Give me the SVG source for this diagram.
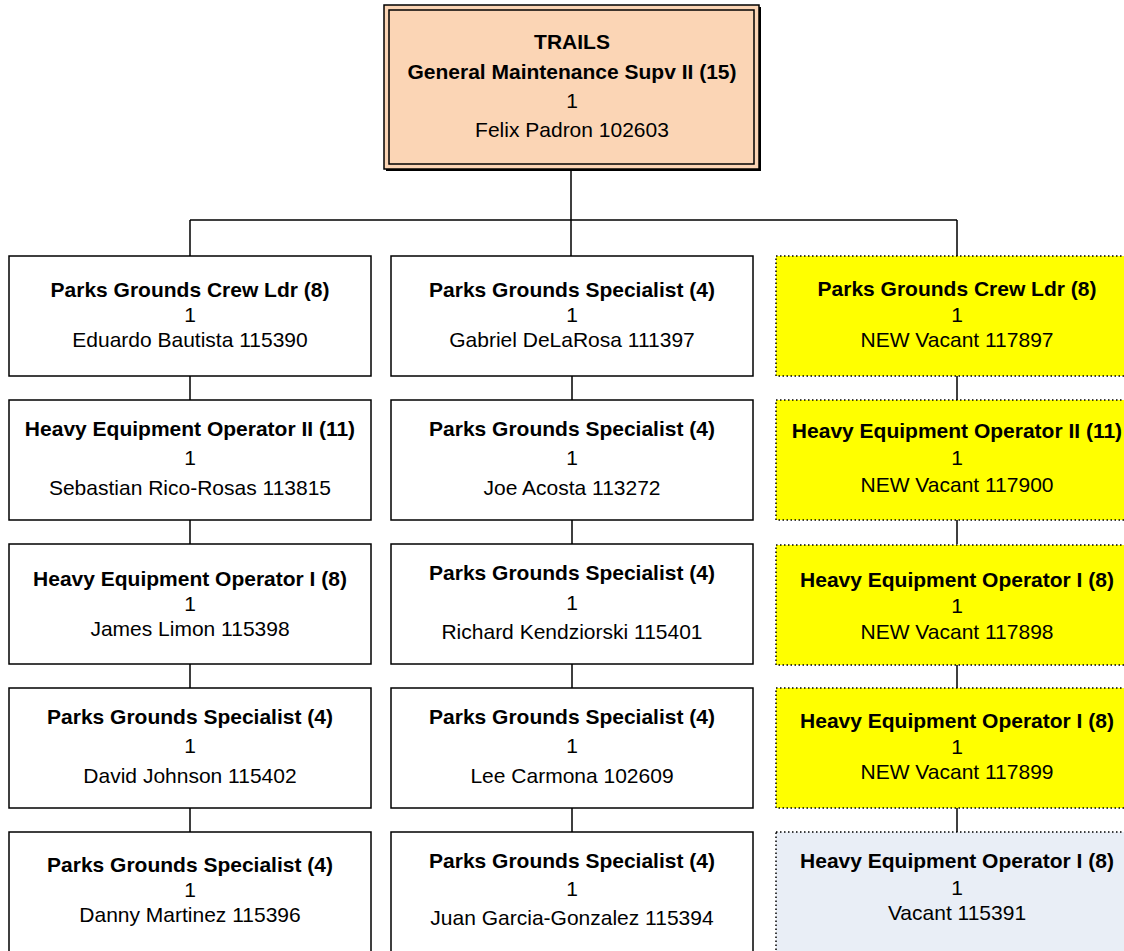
<svg xmlns="http://www.w3.org/2000/svg" width="1124" height="951" viewBox="0 0 1124 951">
<style>
.box{fill:#ffffff;stroke:#000;stroke-width:1.5}
.vac{fill:#ffff00;stroke:#000;stroke-width:1.5;stroke-dasharray:1.5 2.5}
.vac2{fill:#e9eef6;stroke:#000;stroke-width:1.5;stroke-dasharray:1.5 2.5}
.b{font-family:"Liberation Sans",Arial,sans-serif;font-size:21px;font-weight:bold;text-anchor:middle;fill:#000}
.r{font-family:"Liberation Sans",Arial,sans-serif;font-size:21px;text-anchor:middle;fill:#000}
.con{stroke:#000;stroke-width:1.5;fill:none}
</style>
<rect width="1124" height="951" fill="#ffffff"/>
<g id="connectors">
<path class="con" d="M571 170V220M190 220H957M190 220V256M571 220V256M957 220V256"/>
<path class="con" d="M190 376V400M190 520V544M190 664V688M190 808V832"/>
<path class="con" d="M572 376V400M572 520V544M572 664V688M572 808V832"/>
<path class="con" d="M957 376V400M957 520V544M957 664V688M957 808V832"/>
</g>
<g id="top">
<rect x="386" y="7" width="375" height="164" fill="#000"/>
<rect x="384" y="5" width="375" height="164" fill="#fbd5b5" stroke="#000" stroke-width="1.5"/>
<rect x="389" y="10" width="365" height="154" fill="none" stroke="#000" stroke-width="1.5"/>
<text class="b" x="572" y="49">TRAILS</text>
<text class="b" x="572" y="79">General Maintenance Supv II (15)</text>
<text class="r" x="572" y="108">1</text>
<text class="r" x="572" y="137">Felix Padron 102603</text>
</g>
<g id="c1r1"><rect class="box" x="9" y="256" width="362" height="120"/>
<text class="b" x="190" y="297">Parks Grounds Crew Ldr (8)</text><text class="r" x="190" y="322">1</text><text class="r" x="190" y="347">Eduardo Bautista 115390</text></g>
<g id="c1r2"><rect class="box" x="9" y="400" width="362" height="120"/>
<text class="b" x="190" y="436">Heavy Equipment Operator II (11)</text><text class="r" x="190" y="465">1</text><text class="r" x="190" y="495">Sebastian Rico-Rosas 113815</text></g>
<g id="c1r3"><rect class="box" x="9" y="544" width="362" height="120"/>
<text class="b" x="190" y="586">Heavy Equipment Operator I (8)</text><text class="r" x="190" y="611">1</text><text class="r" x="190" y="636">James Limon 115398</text></g>
<g id="c1r4"><rect class="box" x="9" y="688" width="362" height="120"/>
<text class="b" x="190" y="724">Parks Grounds Specialist (4)</text><text class="r" x="190" y="753">1</text><text class="r" x="190" y="783">David Johnson 115402</text></g>
<g id="c1r5"><rect class="box" x="9" y="832" width="362" height="125"/>
<text class="b" x="190" y="872">Parks Grounds Specialist (4)</text><text class="r" x="190" y="897">1</text><text class="r" x="190" y="922">Danny Martinez 115396</text></g>
<g id="c2r1"><rect class="box" x="391" y="256" width="362" height="120"/>
<text class="b" x="572" y="297">Parks Grounds Specialist (4)</text><text class="r" x="572" y="322">1</text><text class="r" x="572" y="347">Gabriel DeLaRosa 111397</text></g>
<g id="c2r2"><rect class="box" x="391" y="400" width="362" height="120"/>
<text class="b" x="572" y="436">Parks Grounds Specialist (4)</text><text class="r" x="572" y="465">1</text><text class="r" x="572" y="495">Joe Acosta 113272</text></g>
<g id="c2r3"><rect class="box" x="391" y="544" width="362" height="120"/>
<text class="b" x="572" y="580">Parks Grounds Specialist (4)</text><text class="r" x="572" y="610">1</text><text class="r" x="572" y="639">Richard Kendziorski 115401</text></g>
<g id="c2r4"><rect class="box" x="391" y="688" width="362" height="120"/>
<text class="b" x="572" y="724">Parks Grounds Specialist (4)</text><text class="r" x="572" y="753">1</text><text class="r" x="572" y="783">Lee Carmona 102609</text></g>
<g id="c2r5"><rect class="box" x="391" y="832" width="362" height="125"/>
<text class="b" x="572" y="868">Parks Grounds Specialist (4)</text><text class="r" x="572" y="896">1</text><text class="r" x="572" y="925">Juan Garcia-Gonzalez 115394</text></g>
<g id="c3r1"><rect class="vac" x="776" y="256" width="362" height="120"/>
<text class="b" x="957" y="296">Parks Grounds Crew Ldr (8)</text><text class="r" x="957" y="322">1</text><text class="r" x="957" y="347">NEW Vacant 117897</text></g>
<g id="c3r2"><rect class="vac" x="776" y="400" width="362" height="120"/>
<text class="b" x="957" y="438">Heavy Equipment Operator II (11)</text><text class="r" x="957" y="465">1</text><text class="r" x="957" y="492">NEW Vacant 117900</text></g>
<g id="c3r3"><rect class="vac" x="776" y="545" width="362" height="120"/>
<text class="b" x="957" y="587">Heavy Equipment Operator I (8)</text><text class="r" x="957" y="613">1</text><text class="r" x="957" y="639">NEW Vacant 117898</text></g>
<g id="c3r4"><rect class="vac" x="776" y="688" width="362" height="120"/>
<text class="b" x="957" y="728">Heavy Equipment Operator I (8)</text><text class="r" x="957" y="754">1</text><text class="r" x="957" y="779">NEW Vacant 117899</text></g>
<g id="c3r5"><rect class="vac2" x="776" y="832" width="362" height="125"/>
<text class="b" x="957" y="868">Heavy Equipment Operator I (8)</text><text class="r" x="957" y="895">1</text><text class="r" x="957" y="920">Vacant 115391</text></g>
</svg>
